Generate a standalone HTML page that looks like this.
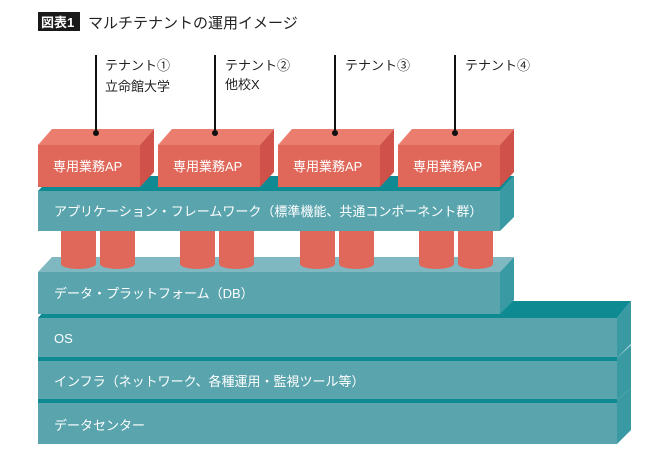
<!DOCTYPE html>
<html><head><meta charset="utf-8"><style>
body{margin:0;background:#fff}
svg text{font-family:"Liberation Sans","Noto Sans CJK JP",sans-serif}
</style></head><body>
<svg width="654" height="454" viewBox="0 0 654 454" xmlns="http://www.w3.org/2000/svg">
<rect x="38" y="12" width="42" height="19" fill="#1a1a1a"/>
<text x="41" y="27" font-size="13" fill="#fff" font-weight="bold">図表1</text>
<text x="88" y="28" font-size="15" fill="#222">マルチテナントの運用イメージ</text>

<!-- bottom slabs -->
<g>
<polygon points="617,400 631,388 631,430 617,444" fill="#3a9aa4"/>
<rect x="38" y="399" width="579" height="45" fill="#0e8a92"/>
<rect x="38" y="403" width="579" height="41" fill="#5aa4ae"/>
<polygon points="617,358 631,345 631,388 617,400" fill="#3a9aa4"/>
<rect x="38" y="357" width="579" height="42" fill="#0e8a92"/>
<rect x="38" y="361" width="579" height="38" fill="#5aa4ae"/>
<polygon points="38,318 52,301 631,301 617,318" fill="#0e8a92"/>
<polygon points="617,318 631,301 631,344 617,358" fill="#3a9aa4"/>
<rect x="38" y="318" width="579" height="39" fill="#5aa4ae"/>
</g>
<text x="54" y="343" font-size="13" fill="#fff">OS</text>
<text x="54" y="386" font-size="13" fill="#fff">インフラ（ネットワーク、各種運用・監視ツール等）</text>
<text x="54" y="430" font-size="13" fill="#fff">データセンター</text>

<!-- data platform -->
<polygon points="38,272 52,257 514,257 500,272" fill="#7fb8c0"/>
<polygon points="500,272 514,257 514,300 500,314" fill="#3a9aa4"/>
<rect x="38" y="272" width="462" height="42" fill="#5aa4ae"/>
<text x="54" y="298" font-size="13" fill="#fff">データ・プラットフォーム（DB）</text>

<!-- cylinders -->
<g fill="#e0685a">
<rect x="61" y="228" width="35" height="36"/><ellipse cx="78.5" cy="264" rx="17.5" ry="5"/>
<rect x="100" y="228" width="35" height="36"/><ellipse cx="117.5" cy="264" rx="17.5" ry="5"/>
<rect x="180" y="228" width="35" height="36"/><ellipse cx="197.5" cy="264" rx="17.5" ry="5"/>
<rect x="219" y="228" width="35" height="36"/><ellipse cx="236.5" cy="264" rx="17.5" ry="5"/>
<rect x="300" y="228" width="35" height="36"/><ellipse cx="317.5" cy="264" rx="17.5" ry="5"/>
<rect x="339" y="228" width="35" height="36"/><ellipse cx="356.5" cy="264" rx="17.5" ry="5"/>
<rect x="419" y="228" width="35" height="36"/><ellipse cx="436.5" cy="264" rx="17.5" ry="5"/>
<rect x="458" y="228" width="35" height="36"/><ellipse cx="475.5" cy="264" rx="17.5" ry="5"/>
</g>

<!-- framework -->
<polygon points="38,191 52,176 514,176 500,191" fill="#0e8a92"/>
<polygon points="500,191 514,176 514,217 500,231" fill="#3a9aa4"/>
<rect x="38" y="191" width="462" height="40" fill="#5aa4ae"/>
<text x="54" y="216" font-size="13" fill="#fff">アプリケーション・フレームワーク（標準機能、共通コンポーネント群）</text>

<!-- red boxes -->
<g>
<g id="b">
<polygon points="38,145 52,129 154,129 140,145" fill="#ea7d6e"/>
<polygon points="140,145 154,129 154,172 140,187" fill="#d0504a"/>
<rect x="38" y="145" width="102" height="42" fill="#e0685a"/>
</g>
<use href="#b" x="120"/><use href="#b" x="240"/><use href="#b" x="360"/>
</g>
<g font-size="13" fill="#fff">
<text x="53" y="171">専用業務AP</text><text x="173" y="171">専用業務AP</text>
<text x="293" y="171">専用業務AP</text><text x="413" y="171">専用業務AP</text>
</g>

<!-- lines -->
<g stroke="#111" stroke-width="2">
<line x1="96" y1="55" x2="96" y2="133"/><line x1="215" y1="55" x2="215" y2="133"/>
<line x1="335" y1="55" x2="335" y2="133"/><line x1="455" y1="55" x2="455" y2="133"/>
</g>
<g fill="#111"><circle cx="96" cy="133" r="3"/><circle cx="215" cy="133" r="3"/><circle cx="335" cy="133" r="3"/><circle cx="455" cy="133" r="3"/></g>
<g font-size="13" fill="#222">
<text x="105" y="70">テナント①</text><text x="105" y="91">立命館大学</text>
<text x="225" y="70">テナント②</text><text x="225" y="89">他校X</text>
<text x="345" y="70">テナント③</text>
<text x="465" y="70">テナント④</text>
</g>
</svg>
</body></html>
